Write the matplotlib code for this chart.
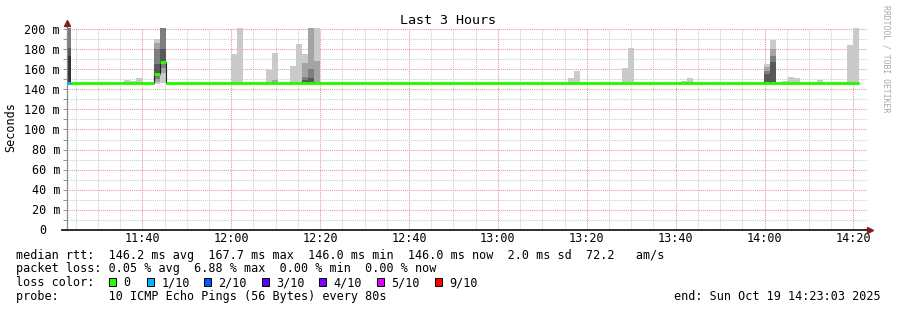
import numpy as np
import matplotlib.pyplot as plt
from matplotlib.patches import Rectangle
from matplotlib.lines import Line2D
from matplotlib.transforms import offset_copy

plt.rcParams['font.family'] = 'DejaVu Sans Mono'

W, H = 897, 310

# time in minutes after midnight
t_start = 11 * 60 + 23 + 3 / 60
t_end = 14 * 60 + 23 + 3 / 60
step0 = 11 * 60 + 22 + 33 / 60      # start of the first 80 s step
step_len = 80 / 60

tick_times = [700, 720, 740, 760, 780, 800, 820, 840, 860]
y_ticks = [0, 20, 40, 60, 80, 100, 120, 140, 160, 180, 200]

# median rtt per 80 s step (ms)
median = [
    146.0, 146.0, 146.0, 146.0, 146.0, 146.0, 146.0, 146.0, 146.0, 146.0,
    146.0, 146.0, 146.0, 146.0, 146.0, 155.3, 167.7, 146.0, 146.0, 146.0,
    146.0, 146.0, 146.0, 146.0, 146.0, 146.0, 146.0, 146.0, 146.0, 146.0,
    146.0, 146.0, 146.0, 146.0, 146.0, 146.0, 146.0, 146.0, 146.0, 146.0,
    146.0, 146.0, 146.0, 146.0, 146.0, 146.0, 146.0, 146.0, 146.0, 146.0,
    146.0, 146.0, 146.0, 146.0, 146.0, 146.0, 146.0, 146.0, 146.0, 146.0,
    146.0, 146.0, 146.0, 146.0, 146.0, 146.0, 146.0, 146.0, 146.0, 146.0,
    146.0, 146.0, 146.0, 146.0, 146.0, 146.0, 146.0, 146.0, 146.0, 146.0,
    146.0, 146.0, 146.0, 146.0, 146.0, 146.0, 146.0, 146.0, 146.0, 146.0,
    146.0, 146.0, 146.0, 146.0, 146.0, 146.0, 146.0, 146.0, 146.0, 146.0,
    146.0, 146.0, 146.0, 146.0, 146.0, 146.0, 146.0, 146.0, 146.0, 146.0,
    146.0, 146.0, 146.0, 146.0, 146.0, 146.0, 146.0, 146.0, 146.0, 146.0,
    146.0, 146.0, 146.0, 146.0, 146.0, 146.0, 146.0, 146.0, 146.0, 146.0,
    146.0, 146.0, 146.0, 146.0,
]
# lost pings (of 10) per step
loss = [
    1, 0, 0, 0, 0, 0, 0, 0, 0, 0,
    0, 0, 0, 0, 0, 0, 0, 0, 0, 0,
    0, 0, 0, 0, 0, 0, 0, 0, 0, 0,
    0, 0, 0, 0, 0, 0, 0, 0, 0, 0,
    0, 0, 0, 0, 0, 0, 0, 0, 0, 0,
    0, 0, 0, 0, 0, 0, 0, 0, 0, 0,
    0, 0, 0, 0, 0, 0, 0, 0, 0, 0,
    0, 0, 0, 0, 0, 0, 0, 0, 0, 0,
    0, 0, 0, 0, 0, 0, 0, 0, 0, 0,
    0, 0, 0, 0, 0, 0, 0, 0, 0, 0,
    0, 0, 0, 0, 0, 0, 0, 0, 0, 0,
    0, 0, 0, 0, 0, 0, 0, 0, 0, 0,
    0, 0, 0, 0, 0, 0, 0, 0, 0, 0,
    0, 0, 0, 0,
]

# sorted ping times for the steps that show smoke (nan = lost)
nan = float('nan')
smoke_steps = [0, 10, 11, 12, 15, 16, 28, 29, 34, 35, 38, 39, 40, 41, 42,
               85, 86, 94, 95, 104, 105, 118, 119, 121, 122, 123, 127, 132, 133]
smoke_pings = [
    [145.8, 145.9, 145.9, 146.0, 146.1, 173.0, 181.0, 224.0, 251.0, nan],
    [145.9, 146.0, 146.0, 146.0, 146.0, 146.1, 146.2, 146.4, 146.8, 149.3],
    [145.9, 146.0, 146.0, 146.0, 146.0, 146.1, 146.2, 146.4, 146.8, 148.3],
    [145.9, 146.0, 146.0, 146.0, 146.0, 146.1, 146.2, 146.4, 146.8, 151.3],
    [145.5, 147.5, 150.0, 153.0, 154.5, 156.0, 165.0, 180.0, 186.0, 190.3],
    [146.0, 156.0, 161.0, 166.0, 167.0, 168.4, 180.0, 212.0, 233.0, 254.0],
    [145.9, 146.0, 146.0, 146.0, 146.0, 146.1, 146.2, 146.4, 146.8, 175.6],
    [145.9, 146.0, 146.0, 146.0, 146.0, 146.1, 146.2, 146.4, 146.8, 230.0],
    [145.9, 146.0, 146.0, 146.0, 146.0, 146.1, 146.2, 146.4, 146.8, 159.3],
    [145.9, 146.0, 146.0, 146.0, 146.0, 146.1, 146.3, 146.6, 149.0, 176.0],
    [145.9, 146.0, 146.0, 146.0, 146.0, 146.1, 146.2, 146.4, 146.8, 163.3],
    [145.9, 146.0, 146.0, 146.0, 146.0, 146.1, 146.2, 146.4, 146.8, 185.3],
    [145.9, 146.0, 146.0, 146.0, 146.0, 147.3, 149.3, 152.6, 166.6, 175.6],
    [145.9, 146.0, 146.0, 146.0, 146.0, 147.5, 151.5, 160.0, 215.0, 240.0],
    [145.9, 146.0, 146.0, 146.0, 146.0, 146.1, 146.5, 147.3, 168.5, 230.0],
    [145.9, 146.0, 146.0, 146.0, 146.0, 146.1, 146.2, 146.4, 146.8, 151.3],
    [145.9, 146.0, 146.0, 146.0, 146.0, 146.1, 146.2, 146.4, 146.8, 158.3],
    [145.9, 146.0, 146.0, 146.0, 146.0, 146.1, 146.2, 146.4, 146.8, 161.0],
    [145.9, 146.0, 146.0, 146.0, 146.0, 146.1, 146.2, 146.4, 146.8, 181.3],
    [145.9, 146.0, 146.0, 146.0, 146.0, 146.1, 146.2, 146.4, 146.8, 148.6],
    [145.9, 146.0, 146.0, 146.0, 146.0, 146.1, 146.2, 146.4, 146.8, 151.3],
    [145.9, 146.0, 146.0, 146.0, 146.0, 147.5, 155.3, 158.6, 162.6, 165.6],
    [145.9, 146.0, 146.0, 146.0, 146.0, 147.5, 167.3, 173.3, 180.3, 189.3],
    [145.9, 146.0, 146.0, 146.0, 146.0, 146.1, 146.2, 146.4, 146.8, 148.3],
    [145.9, 146.0, 146.0, 146.0, 146.0, 146.1, 146.2, 146.4, 146.8, 152.3],
    [145.9, 146.0, 146.0, 146.0, 146.0, 146.1, 146.2, 146.4, 146.8, 151.3],
    [145.9, 146.0, 146.0, 146.0, 146.0, 146.1, 146.2, 146.4, 146.8, 149.3],
    [145.9, 146.0, 146.0, 146.0, 146.0, 146.1, 146.2, 146.4, 146.8, 184.3],
    [145.9, 146.0, 146.0, 146.0, 146.0, 146.1, 146.2, 146.4, 146.8, 226.0],
]
smoke_shades = ['#cacaca', '#a4a4a4', '#7e7e7e', '#585858', '#323232']

loss_labels = ['0', '1/10', '2/10', '3/10', '4/10', '5/10', '9/10']
loss_colors = ['#26ff00', '#00b8ff', '#0059ff', '#5e00ff', '#7e00ff', '#dd00ff', '#ff0000']
loss_index = {0: 0, 1: 1, 2: 2, 3: 3, 4: 4, 5: 5, 9: 6}

fig = plt.figure(figsize=(W / 100, H / 100), dpi=100)
ax = fig.add_axes([67 / W, (H - 229.5) / H, 800 / W, 201 / H])
ax.set_xlim(t_start, t_end)
ax.set_ylim(0, 201)

# smoke
for k, p in zip(smoke_steps, smoke_pings):
    left = step0 + k * step_len
    for i in range(5):
        lo, hi = p[i], p[9 - i]
        if np.isnan(lo) or np.isnan(hi):
            continue
        ax.bar(left, hi - lo, bottom=lo, width=step_len, align='edge',
               color=smoke_shades[i], linewidth=0, zorder=2)

# median line
edges = step0 + step_len * np.arange(len(median) + 1)
ax.stairs(median, edges, baseline=None, color='#202020', lw=0.8, zorder=4)
cols = [loss_colors[loss_index[l]] for l in loss]
ax.hlines(median, edges[:-1], edges[1:], colors=cols, lw=2.2, zorder=5,
          capstyle='butt')

# grid (minor lines only between the major ones)
ax.set_xticks(tick_times)
ax.set_xticks([t for t in range(685, 865, 5) if t % 20], minor=True)
ax.set_yticks(y_ticks)
ax.set_yticks(np.arange(10, 200, 20), minor=True)
ax.set_axisbelow(True)
ax.grid(which='minor', color='#cccccc', ls=(0, (1, 1)), lw=0.75)
ax.grid(which='major', color='#ec9494', ls=(0, (1, 1)), lw=0.75)
ax.tick_params(axis='x', which='both', length=0, labelbottom=False)
ax.tick_params(axis='y', which='both', length=2.9, color='#909090',
               width=0.7, labelleft=False)
for s in ax.spines.values():
    s.set_visible(False)

# tick labels
for t in tick_times:
    tr = offset_copy(ax.get_xaxis_transform(), fig=fig, x=0, y=-12.5, units='dots')
    ax.text(t, 0, f'{t // 60:02d}:{t % 60:02d}', transform=tr, ha='center',
            va='baseline', fontsize=8.5)
for v in y_ticks:
    lab = f'{v} m' if v else '0'
    dx = -7 if v else -20.5
    tr = offset_copy(ax.get_yaxis_transform(), fig=fig, x=dx, y=-4.3, units='dots')
    ax.text(0, v, lab, transform=tr, ha='right', va='baseline', fontsize=8.5)

def fx(x):
    return x / W

def fy(y):
    return 1 - y / H

# axes lines and arrows
fig.add_artist(Line2D([fx(66.5), fx(66.5)], [fy(229.5), fy(24)], color='#8a8a8a', lw=0.9))
fig.add_artist(Line2D([fx(62), fx(867)], [fy(229.5), fy(229.5)], color='#1e1e1e', lw=1.3))
fig.add_artist(Line2D([fx(66.5)], [fy(23)], marker='^', markersize=4.5, color='#7f1f1f', lw=0))
fig.add_artist(Line2D([fx(869.5)], [fy(229.5)], marker='>', markersize=4.5, color='#7f1f1f', lw=0))

fig.text(fx(448), fy(24), 'Last 3 Hours', ha='center', va='baseline', fontsize=9.6)
fig.text(fx(11), fy(127), 'Seconds', rotation=90, ha='center', va='center', fontsize=8.5)
fig.text(fx(886), fy(59), 'RRDTOOL / TOBI OETIKER', rotation=270, ha='center',
         va='center', fontsize=5.9, color='#a8a8a8')

# legend
rows = [
    'median rtt:  146.2 ms avg  167.7 ms max  146.0 ms min  146.0 ms now  2.0 ms sd  72.2   am/s',
    'packet loss: 0.05 % avg  6.88 % max  0.00 % min  0.00 % now',
    'loss color:',
    'probe:       10 ICMP Echo Pings (56 Bytes) every 80s',
]
baselines = [258.7, 272.3, 286.3, 300.0]
for r, b in zip(rows, baselines):
    fig.text(fx(16), fy(b), r, ha='left', va='baseline', fontsize=8.5)
fig.text(fx(880.5), fy(300.0), 'end: Sun Oct 19 14:23:03 2025', ha='right',
         va='baseline', fontsize=8.5)

box_x = [109, 146.7, 204, 261.7, 319, 376.7, 435]
for x, lab, c in zip(box_x, loss_labels, loss_colors):
    fig.add_artist(Rectangle((fx(x), fy(285.7)), 7 / W, 8 / H, transform=fig.transFigure,
                             facecolor=c, edgecolor='black', lw=0.7))
    fig.text(fx(x + 14.5), fy(286.3), lab, ha='left', va='baseline', fontsize=8.5)

fig.savefig('out.png', dpi=100)
